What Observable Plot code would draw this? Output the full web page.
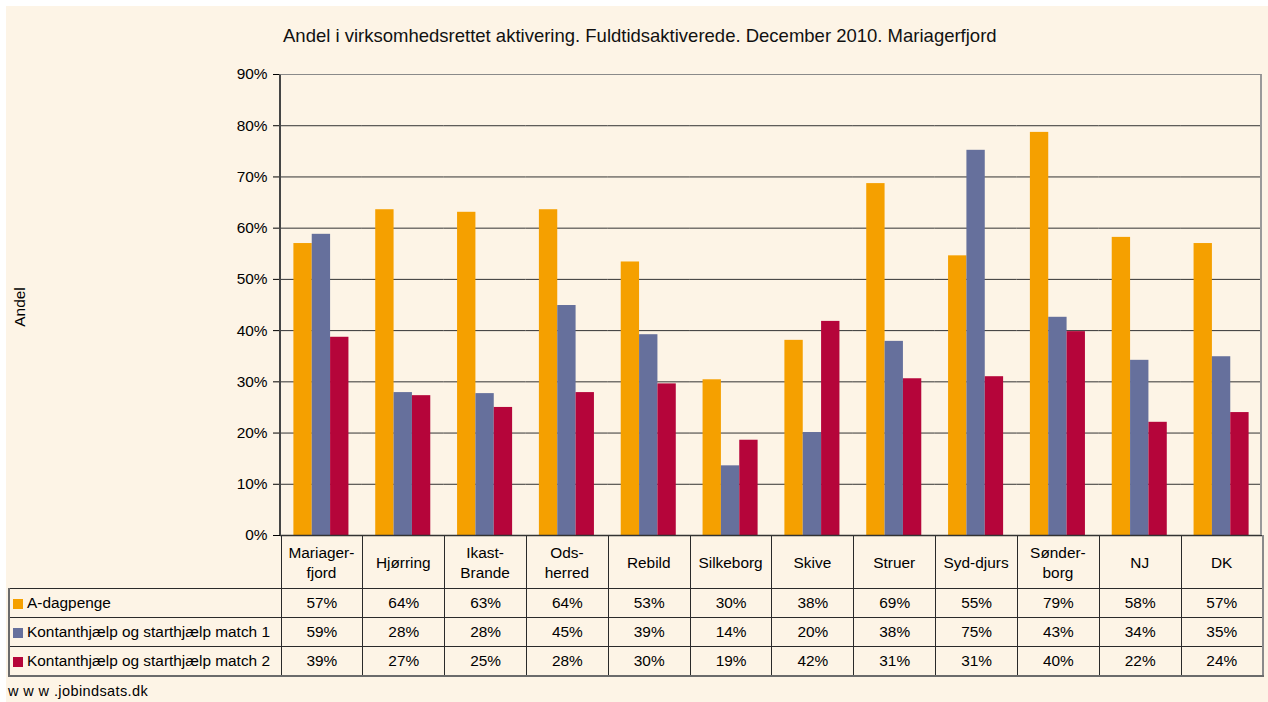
<!DOCTYPE html>
<html>
<head>
<meta charset="utf-8">
<script src="https://cdn.jsdelivr.net/npm/d3@7"></script>
<script src="https://cdn.jsdelivr.net/npm/@observablehq/plot@0.6"></script>
<style>
  body { margin: 0; background: #fff; }
  #page { position: relative; width: 1268px; height: 702px; background: #fff; overflow: hidden;
          font-family: "Liberation Sans", Arial, sans-serif; color: #000; }
  #bg { position: absolute; left: 6px; top: 6px; right: 0; bottom: 0; background: #FDF4E6; }
  #title { position: absolute; left: 283px; top: 25px; font-size: 18.5px; line-height: 21px; white-space: nowrap; color: #111; }
  #ylabel { position: absolute; left: 20px; top: 307px; font-size: 15.4px; transform: translate(-50%, -50%) rotate(-90deg); white-space: nowrap; }
  #footer { position: absolute; left: 8px; top: 683px; font-size: 14.5px; letter-spacing: 0.4px; white-space: nowrap; }
  #chart { position: absolute; left: 0; top: 0; }
  #frame { position: absolute; left: 279px; top: 74px; width: 983px; height: 461px;
           border-top: 1px solid #8a8a8a; border-right: 2px solid #9a9a9a; border-left: 2px solid #454545;
           box-sizing: border-box; pointer-events: none; }
  table { position: absolute; left: 8px; top: 535px; border-collapse: collapse; table-layout: fixed;
          width: 1254px; font-size: 15.4px; }
  td { border: 1px solid #2a2a2a; padding: 0; text-align: center; white-space: nowrap; overflow: hidden; }
  tr.head td { height: 52px; }
  tr.head td.corner { border-top: hidden; border-left: hidden; }
  tr.row td { height: 28px; }
  td.leg { text-align: left; padding-left: 3px; }
  .sw { display: inline-block; width: 10px; height: 10px; margin-right: 4px; vertical-align: -1px; }
  tr.row td:first-child { border-left: 2px solid #6b6b6b; }
  tr.row td:last-child, tr.head td:last-child { border-right: 2px solid #8a8a8a; }
  tr.last td { border-bottom: 2px solid #6b6b6b; }
</style>
</head>
<body>
<div id="page">
  <div id="bg"></div>
  <table id="tbl"></table>
  <div id="chart"></div>
  <div id="frame"></div>
  <div id="title"></div>
  <div id="ylabel"></div>
  <div id="footer"></div>
</div>
<script>
const titleText = "Andel i virksomhedsrettet aktivering. Fuldtidsaktiverede. December 2010. Mariagerfjord";
const yLabelText = "Andel";
const footerText = "w w w .jobindsats.dk";

const categories = ["Mariager-\nfjord", "Hjørring", "Ikast-\nBrande", "Ods-\nherred", "Rebild", "Silkeborg",
                    "Skive", "Struer", "Syd-djurs", "Sønder-\nborg", "NJ", "DK"];
const series = ["A-dagpenge", "Kontanthjælp og starthjælp match 1", "Kontanthjælp og starthjælp match 2"];
const colors = ["#F5A000", "#66709C", "#B5053A"];

// values in percent
const aDagpenge = [57.0, 63.6, 63.1, 63.6, 53.4, 30.4, 38.1, 68.7, 54.6, 78.7, 58.2, 57.0];
const match1    = [58.8, 27.9, 27.7, 44.9, 39.2, 13.6, 20.1, 37.9, 75.2, 42.6, 34.2, 34.9];
const match2    = [38.7, 27.3, 25.0, 27.9, 29.6, 18.6, 41.8, 30.6, 31.0, 39.8, 22.1, 24.0];
const yTicks = [0, 0.1, 0.2, 0.3, 0.4, 0.5, 0.6, 0.7, 0.8, 0.9];

const seriesValues = [aDagpenge, match1, match2];
const data = categories.flatMap((c, i) =>
  series.map((s, j) => ({cat: c, series: s, value: seriesValues[j][i] / 100})));

document.getElementById("title").textContent = titleText;
document.getElementById("ylabel").textContent = yLabelText;
document.getElementById("footer").textContent = footerText;

const fmtPct = d => Math.round(d * 100) + "%";

const marks = [
  Plot.ruleY(yTicks.slice(1, -1), {stroke: "#333", strokeWidth: 1}),
  Plot.barY(data, {fx: "cat", x: "series", y: "value", fill: "series"}),
  Plot.ruleY([0], {stroke: "#333", strokeWidth: 1.5})
];
if (Plot.axisFx) {
  marks.push(Plot.axisFx({anchor: "bottom", tickSize: 0, tickPadding: 26, lineAnchor: "middle",
                          label: null, fontSize: "15.4px", lineHeight: 1.3}));
}

const chart = Plot.plot({
  width: 1268,
  height: 588,
  marginLeft: 280,
  marginRight: 6,
  marginTop: 74,
  marginBottom: 53,
  style: {background: "transparent", fontFamily: '"Liberation Sans", Arial, sans-serif', fontSize: "15.4px", color: "#000"},
  fx: {domain: categories, padding: 0, round: false, label: null, axis: Plot.axisFx ? null : "bottom", tickSize: 0, tickPadding: 12},
  x: {domain: series, paddingInner: 0, paddingOuter: 0.73, round: false, axis: null},
  y: {domain: [0, 0.9], ticks: yTicks, tickFormat: fmtPct, label: null, tickSize: 7, tickPadding: 6},
  color: {domain: series, range: colors},
  marks
});
document.getElementById("chart").appendChild(chart);

// data table below the chart
const tbl = d3.select("#tbl");
const colgroup = tbl.append("colgroup");
colgroup.append("col").style("width", "272px");
categories.forEach(() => colgroup.append("col").style("width", (982 / 12) + "px"));
const head = tbl.append("tr").attr("class", "head");
head.append("td").attr("class", "corner");
categories.forEach(() => head.append("td"));
series.forEach((s, j) => {
  const tr = tbl.append("tr").attr("class", "row" + (j === series.length - 1 ? " last" : ""));
  const leg = tr.append("td").attr("class", "leg");
  leg.append("span").attr("class", "sw").style("background", colors[j]);
  leg.append("span").text(s);
  seriesValues[j].forEach(v => tr.append("td").text(Math.round(v) + "%"));
});
</script>
</body>
</html>
